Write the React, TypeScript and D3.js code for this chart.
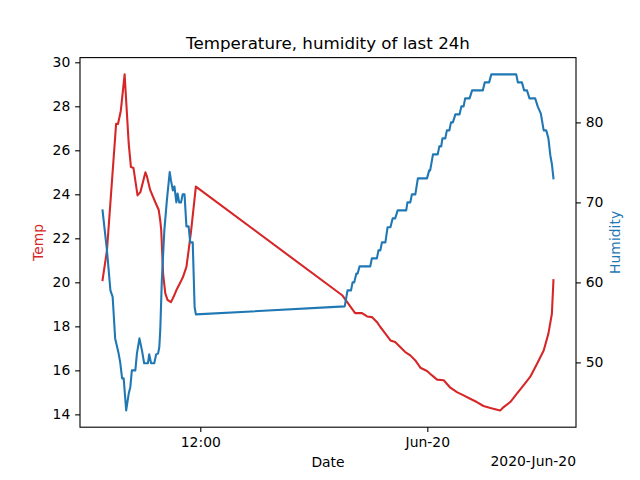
import React, { useRef, useEffect } from 'react';
import * as d3 from 'd3';

// temperature samples (left axis)
const tempTimes = [
  '2020-06-19 06:50', '2020-06-19 07:04', '2020-06-19 07:33', '2020-06-19 07:39', '2020-06-19 07:48',
  '2020-06-19 08:00', '2020-06-19 08:13', '2020-06-19 08:20', '2020-06-19 08:28', '2020-06-19 08:41',
  '2020-06-19 08:50', '2020-06-19 09:06', '2020-06-19 09:11', '2020-06-19 09:21', '2020-06-19 09:37',
  '2020-06-19 09:48', '2020-06-19 09:53', '2020-06-19 09:56', '2020-06-19 10:02', '2020-06-19 10:09',
  '2020-06-19 10:16', '2020-06-19 10:27', '2020-06-19 10:35', '2020-06-19 10:46', '2020-06-19 10:57',
  '2020-06-19 11:05', '2020-06-19 11:16', '2020-06-19 11:23', '2020-06-19 11:31', '2020-06-19 11:46',
  '2020-06-19 19:31', '2020-06-19 20:11', '2020-06-19 20:33', '2020-06-19 20:49', '2020-06-19 21:04',
  '2020-06-19 21:20', '2020-06-19 21:31', '2020-06-19 21:47', '2020-06-19 22:03', '2020-06-19 22:18',
  '2020-06-19 22:34', '2020-06-19 22:50', '2020-06-19 23:06', '2020-06-19 23:22', '2020-06-19 23:38',
  '2020-06-19 23:59', '2020-06-20 00:15', '2020-06-20 00:31', '2020-06-20 00:52', '2020-06-20 01:13',
  '2020-06-20 01:34', '2020-06-20 01:55', '2020-06-20 02:16', '2020-06-20 02:37', '2020-06-20 02:58',
  '2020-06-20 03:20', '2020-06-20 03:51', '2020-06-20 04:02', '2020-06-20 04:23', '2020-06-20 04:44',
  '2020-06-20 05:05', '2020-06-20 05:26', '2020-06-20 05:48', '2020-06-20 06:09', '2020-06-20 06:24',
  '2020-06-20 06:35', '2020-06-20 06:40'
];
const tempValues = [
  20.1, 21.45, 27.2, 27.2, 27.8,
  29.45, 26.3, 25.24, 25.2, 23.95,
  24.1, 25.0, 24.8, 24.2, 23.65,
  23.3, 22.8, 22.4, 20.4, 19.5,
  19.2, 19.1, 19.33, 19.7, 20.0,
  20.24, 20.7, 21.45, 22.36, 24.35,
  19.4, 18.6, 18.6, 18.45, 18.42,
  18.2, 17.97, 17.67, 17.36, 17.29,
  17.06, 16.83, 16.68, 16.45, 16.12,
  15.97, 15.77, 15.58, 15.55, 15.21,
  15.01, 14.86, 14.71, 14.56, 14.38,
  14.29, 14.18, 14.33, 14.56, 14.94,
  15.32, 15.7, 16.3, 16.9, 17.67,
  18.57, 20.1
];

// humidity samples (right axis)
const humTimes = [
  '2020-06-19 06:50', '2020-06-19 07:04', '2020-06-19 07:15', '2020-06-19 07:22', '2020-06-19 07:30',
  '2020-06-19 07:41', '2020-06-19 07:46', '2020-06-19 07:52', '2020-06-19 07:57', '2020-06-19 08:05',
  '2020-06-19 08:13', '2020-06-19 08:18', '2020-06-19 08:23', '2020-06-19 08:34', '2020-06-19 08:39',
  '2020-06-19 08:47', '2020-06-19 08:55', '2020-06-19 09:02', '2020-06-19 09:14', '2020-06-19 09:18',
  '2020-06-19 09:24', '2020-06-19 09:34', '2020-06-19 09:40', '2020-06-19 09:46', '2020-06-19 09:50',
  '2020-06-19 09:53', '2020-06-19 09:58', '2020-06-19 10:06', '2020-06-19 10:14', '2020-06-19 10:23',
  '2020-06-19 10:27', '2020-06-19 10:33', '2020-06-19 10:38', '2020-06-19 10:44', '2020-06-19 10:48',
  '2020-06-19 10:53', '2020-06-19 10:59', '2020-06-19 11:04', '2020-06-19 11:10', '2020-06-19 11:16',
  '2020-06-19 11:23', '2020-06-19 11:28', '2020-06-19 11:36', '2020-06-19 11:42', '2020-06-19 11:46',
  '2020-06-19 19:38', '2020-06-19 19:47', '2020-06-19 19:58', '2020-06-19 20:03', '2020-06-19 20:08',
  '2020-06-19 20:15', '2020-06-19 20:19', '2020-06-19 20:25', '2020-06-19 20:59', '2020-06-19 21:04',
  '2020-06-19 21:20', '2020-06-19 21:25', '2020-06-19 21:31', '2020-06-19 21:36', '2020-06-19 21:47',
  '2020-06-19 21:54', '2020-06-19 22:03', '2020-06-19 22:10', '2020-06-19 22:18', '2020-06-19 22:26',
  '2020-06-19 22:53', '2020-06-19 22:57', '2020-06-19 23:06', '2020-06-19 23:11', '2020-06-19 23:22',
  '2020-06-19 23:30', '2020-06-19 23:59', '2020-06-20 00:06', '2020-06-20 00:09', '2020-06-20 00:18',
  '2020-06-20 00:33', '2020-06-20 00:38', '2020-06-20 00:44', '2020-06-20 00:48', '2020-06-20 00:57',
  '2020-06-20 01:02', '2020-06-20 01:10', '2020-06-20 01:15', '2020-06-20 01:21', '2020-06-20 01:29',
  '2020-06-20 01:42', '2020-06-20 01:48', '2020-06-20 01:55', '2020-06-20 02:00', '2020-06-20 02:14',
  '2020-06-20 02:22', '2020-06-20 02:56', '2020-06-20 03:02', '2020-06-20 03:16', '2020-06-20 03:23',
  '2020-06-20 04:42', '2020-06-20 04:47', '2020-06-20 05:00', '2020-06-20 05:07', '2020-06-20 05:16',
  '2020-06-20 05:24', '2020-06-20 05:42', '2020-06-20 05:50', '2020-06-20 06:00', '2020-06-20 06:09',
  '2020-06-20 06:17', '2020-06-20 06:24', '2020-06-20 06:30', '2020-06-20 06:35', '2020-06-20 06:40'
];
const humValues = [
  69, 64, 59, 58.2, 53,
  51.1, 50, 48, 48, 44,
  46.1, 46.9, 49, 49, 51.1,
  53, 51.5, 49.9, 49.9, 51,
  49.9, 49.9, 51, 51.1, 51.9,
  54, 60.25, 66.5, 70.25, 73.8,
  72.75, 71.5, 72, 70, 71.1,
  70, 70, 71, 71, 67,
  67, 65, 65, 56.9, 56,
  57, 59, 59, 60, 60,
  61.1, 61.1, 62, 62, 63,
  63, 64, 64, 65, 65,
  66.9, 66.9, 68, 68, 69,
  69, 70, 70, 71, 71,
  73, 73, 74, 74, 76,
  76, 77, 77, 78, 78,
  79, 79, 80, 80, 81,
  81, 82, 82, 83, 83,
  84, 84, 85, 85, 86,
  86, 85, 85, 84, 84,
  83, 83, 82, 81.1, 79,
  79, 78, 75.9, 74.8, 73
];

const tempTicks = [14, 16, 18, 20, 22, 24, 26, 28, 30];
const humTicks = [50, 60, 70, 80];
const dateTicks = ['2020-06-19 12:00', '2020-06-20 00:00'];
const dateTickLabels = ['12:00', 'Jun-20'];

const TEMP_COLOR = '#d62728';
const HUM_COLOR = '#1f77b4';

const App: React.FC = () => {
  const svgRef = useRef<SVGSVGElement>(null);
  const width = 640;
  const height = 480;

  useEffect(() => {
    if (!svgRef.current) return;
    const svg = d3.select(svgRef.current);
    svg.selectAll('*').remove();

    const margin = { top: 57.6, right: 64, bottom: 52.8, left: 80 };
    const innerWidth = width - margin.left - margin.right;
    const innerHeight = height - margin.top - margin.bottom;
    const font = 'DejaVu Sans, sans-serif';

    const parse = d3.timeParse('%Y-%m-%d %H:%M');
    const temp = tempTimes.map((t, i) => ({ t: parse(t)!, v: tempValues[i] }));
    const hum = humTimes.map((t, i) => ({ t: parse(t)!, v: humValues[i] }));

    // matplotlib style 5% margins
    const pad = (ext: [number, number]): [number, number] => {
      const r = ext[1] - ext[0];
      return [ext[0] - r * 0.05, ext[1] + r * 0.05];
    };
    const allT = [...temp, ...hum].map(d => +d.t);
    const [x0, x1] = pad(d3.extent(allT) as [number, number]);

    const xScale = d3.scaleTime()
      .domain([new Date(x0), new Date(x1)])
      .range([0, innerWidth]);
    const yTemp = d3.scaleLinear()
      .domain(pad(d3.extent(tempValues) as [number, number]))
      .range([innerHeight, 0]);
    const yHum = d3.scaleLinear()
      .domain(pad(d3.extent(humValues) as [number, number]))
      .range([innerHeight, 0]);

    const g = svg.append('g')
      .attr('transform', `translate(${margin.left},${margin.top})`);

    // lines
    const tempLine = d3.line<{ t: Date; v: number }>()
      .x(d => xScale(d.t))
      .y(d => yTemp(d.v));
    const humLine = d3.line<{ t: Date; v: number }>()
      .x(d => xScale(d.t))
      .y(d => yHum(d.v));

    g.append('path')
      .datum(temp)
      .attr('d', tempLine)
      .attr('fill', 'none')
      .attr('stroke', TEMP_COLOR)
      .attr('stroke-width', 2.08)
      .attr('stroke-linejoin', 'round')
      .attr('stroke-linecap', 'square');

    g.append('path')
      .datum(hum)
      .attr('d', humLine)
      .attr('fill', 'none')
      .attr('stroke', HUM_COLOR)
      .attr('stroke-width', 2.08)
      .attr('stroke-linejoin', 'round')
      .attr('stroke-linecap', 'square');

    const styleAxis = (sel: d3.Selection<SVGGElement, unknown, null, undefined>) => {
      sel.select('.domain').remove();
      sel.selectAll('line').attr('stroke', '#000').attr('stroke-width', 1.1);
      sel.selectAll('text')
        .attr('fill', '#000')
        .style('font-family', font)
        .style('font-size', '13.9px');
    };

    // x axis
    const xAxis = g.append('g')
      .attr('transform', `translate(0,${innerHeight})`)
      .call(d3.axisBottom(xScale)
        .tickValues(dateTicks.map(d => parse(d)!))
        .tickFormat((_d, i) => dateTickLabels[i])
        .tickSize(4.86)
        .tickPadding(4.86));
    styleAxis(xAxis);
    xAxis.selectAll('text').attr('dy', '0.71em');

    // left axis
    const yAxisL = g.append('g')
      .call(d3.axisLeft(yTemp)
        .tickValues(tempTicks)
        .tickFormat(d3.format('d'))
        .tickSize(4.86)
        .tickPadding(4.86));
    styleAxis(yAxisL);

    // right axis
    const yAxisR = g.append('g')
      .attr('transform', `translate(${innerWidth},0)`)
      .call(d3.axisRight(yHum)
        .tickValues(humTicks)
        .tickFormat(d3.format('d'))
        .tickSize(4.86)
        .tickPadding(4.86));
    styleAxis(yAxisR);

    // frame
    g.append('rect')
      .attr('x', 0)
      .attr('y', 0)
      .attr('width', innerWidth)
      .attr('height', innerHeight)
      .attr('fill', 'none')
      .attr('stroke', '#000')
      .attr('stroke-width', 1.1);

    // title
    svg.append('text')
      .attr('x', margin.left + innerWidth / 2)
      .attr('y', 49)
      .attr('text-anchor', 'middle')
      .style('font-family', font)
      .style('font-size', '16.7px')
      .text('Temperature, humidity of last 24h');

    // axis labels
    svg.append('text')
      .attr('x', margin.left + innerWidth / 2)
      .attr('y', 467)
      .attr('text-anchor', 'middle')
      .style('font-family', font)
      .style('font-size', '13.9px')
      .text('Date');

    svg.append('text')
      .attr('x', width - margin.right)
      .attr('y', 466)
      .attr('text-anchor', 'end')
      .style('font-family', font)
      .style('font-size', '13.9px')
      .text('2020-Jun-20');

    svg.append('text')
      .attr('transform', `translate(43,${margin.top + innerHeight / 2}) rotate(-90)`)
      .attr('text-anchor', 'middle')
      .style('font-family', font)
      .style('font-size', '13.9px')
      .style('fill', TEMP_COLOR)
      .text('Temp');

    svg.append('text')
      .attr('transform', `translate(620,${margin.top + innerHeight / 2}) rotate(-90)`)
      .attr('text-anchor', 'middle')
      .style('font-family', font)
      .style('font-size', '13.9px')
      .style('fill', HUM_COLOR)
      .text('Humidity');
  }, []);

  return (
    <div style={{ position: 'fixed', left: 0, top: 0 }}>
      <svg ref={svgRef} width={width} height={height} style={{ display: 'block', background: '#fff' }} />
    </div>
  );
};

export default App;
